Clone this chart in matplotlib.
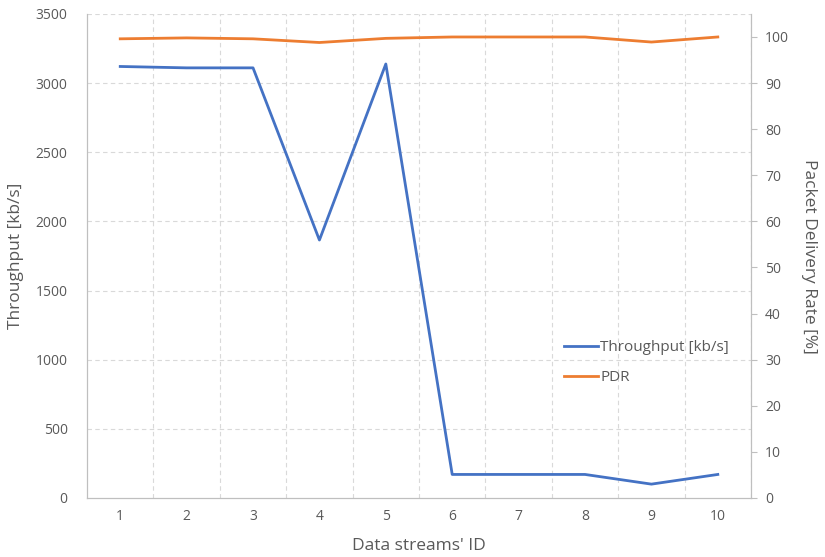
import matplotlib
matplotlib.use("Agg")
import matplotlib.pyplot as plt

# data
stream_ids = [1, 2, 3, 4, 5, 6, 7, 8, 9, 10]
throughput = [3120, 3110, 3110, 1865, 3138, 170, 170, 170, 100, 170]
pdr = [99.6, 99.8, 99.6, 98.8, 99.7, 100, 100, 100, 98.9, 100]

BLUE = "#4472C4"
ORANGE = "#ED7D31"
TXT = "#595959"
GRID = "#D9D9D9"

plt.rcParams["font.family"] = ["Open Sans", "DejaVu Sans"]

fig = plt.figure(figsize=(8.25, 5.57), dpi=100)
ax = fig.add_axes([0.1055, 0.106, 0.8048, 0.869])
ax2 = ax.twinx()

l1, = ax.plot(stream_ids, throughput, color=BLUE, lw=2.0, label="Throughput [kb/s]")
l2, = ax2.plot(stream_ids, pdr, color=ORANGE, lw=2.0, label="PDR")

ax.set_xlim(0.5, 10.5)
ax.set_ylim(0, 3500)
ax2.set_ylim(0, 105)
ax.set_xticks(stream_ids)
ax.set_yticks(range(0, 3501, 500))
ax2.set_yticks(range(0, 101, 10))

# dashed grid: horizontal on left ticks, vertical between categories
for y in range(500, 3501, 500):
    ax.axhline(y, color=GRID, lw=0.8, ls=(0, (4, 3)), zorder=0)
for x in [i + 0.5 for i in range(1, 11)]:
    ax.axvline(x, color=GRID, lw=0.8, ls=(0, (4, 3)), zorder=0)

for a in (ax, ax2):
    for s in a.spines.values():
        s.set_color("#BFBFBF")
    a.spines["top"].set_visible(False)
    a.tick_params(colors=TXT, labelsize=10)

ax.tick_params(axis="both", length=0, pad=8)
ax.tick_params(axis="y", pad=14)
ax2.tick_params(axis="y", length=4, color="#BFBFBF", pad=6)

ax.set_xlabel("Data streams' ID", color=TXT, fontsize=12.5, labelpad=10)
ax.set_ylabel("Throughput [kb/s]", color=TXT, fontsize=12.5, labelpad=8)
ax2.set_ylabel("Packet Delivery Rate [%]", color=TXT, fontsize=12.5,
               rotation=270, labelpad=20)

leg = ax.legend(handles=[l1, l2], loc="upper left", bbox_to_anchor=(0.698, 0.355),
                frameon=False, handlelength=2.2, handletextpad=0.15,
                labelspacing=1.0, fontsize=11)
for t in leg.get_texts():
    t.set_color(TXT)

fig.savefig("out.png", dpi=100)
